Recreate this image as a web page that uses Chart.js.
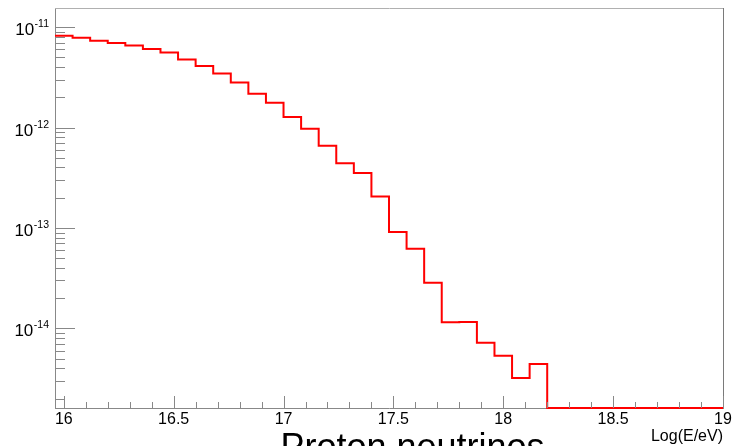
<!DOCTYPE html>
<html>
<head>
<meta charset="utf-8">
<title>Proton neutrinos</title>
<script src="https://cdn.jsdelivr.net/npm/chart.js@4/dist/chart.umd.min.js"></script>
<style>
  html, body { margin: 0; padding: 0; background: #fff; overflow: hidden; }
  #wrap { width: 732px; height: 446px; }
</style>
</head>
<body>
<div id="wrap"><canvas id="chart" width="732" height="446"></canvas></div>
<script>
// Bin edges in Log(E/eV) (38 bins of 0.08, last edge = 19)
var binEdges = [
  15.96, 16.04, 16.12, 16.20, 16.28, 16.36, 16.44, 16.52, 16.60, 16.68,
  16.76, 16.84, 16.92, 17.00, 17.08, 17.16, 17.24, 17.32, 17.40, 17.48,
  17.56, 17.64, 17.72, 17.80, 17.88, 17.96, 18.04, 18.12, 18.20, 18.28,
  18.36, 18.44, 18.52, 18.60, 18.68, 18.76, 18.84, 18.92, 19.00
];

// Bin contents (empty bins are 0)
var binValues = [
  8.19e-12, 7.82e-12, 7.30e-12, 6.93e-12, 6.57e-12, 6.04e-12, 5.60e-12, 4.77e-12,
  4.09e-12, 3.46e-12, 2.81e-12, 2.17e-12, 1.76e-12, 1.27e-12, 9.71e-13, 6.58e-13,
  4.42e-13, 3.52e-13, 2.06e-13, 9.09e-14, 6.20e-14, 2.84e-14, 1.15e-14, 1.16e-14,
  7.19e-15, 5.33e-15, 3.20e-15, 4.41e-15, 0, 0, 0, 0, 0, 0, 0, 0, 0, 0
];

// X axis ticks (labels only on the half units)
var xTicks = [
  16.0, 16.1, 16.2, 16.3, 16.4, 16.5, 16.6, 16.7, 16.8, 16.9,
  17.0, 17.1, 17.2, 17.3, 17.4, 17.5, 17.6, 17.7, 17.8, 17.9,
  18.0, 18.1, 18.2, 18.3, 18.4, 18.5, 18.6, 18.7, 18.8, 18.9, 19.0
];
var xLabels = ["16", "16.5", "17", "17.5", "18", "18.5", "19"];

// Y axis decades (log scale)
var yDecades = [-15, -14, -13, -12, -11];

var xMin = 15.96, xMax = 19;
var yMin = 1.61e-15, yMax = 1.55e-11;

var histTitle = "Proton neutrinos";
var xTitle = "Log(E/eV)";

var fontFamily = "'Liberation Sans', Arial, Helvetica, sans-serif";
Chart.defaults.font.family = fontFamily;

function isHalf(v) {
  return Math.abs(v * 2 - Math.round(v * 2)) < 1e-6;
}

// Build the step points: one per bin low edge, plus the closing edge
function buildSteps() {
  var pts = [];
  for (var i = 0; i < binEdges.length; i++) {
    var v = i < binValues.length ? binValues[i] : binValues[binValues.length - 1];
    pts.push({ x: binEdges[i], y: Math.max(v, yMin) });
  }
  return pts;
}

// ROOT style frame: inner ticks, 10^n labels, title
var rootFrame = {
  id: "rootFrame",
  afterDraw: function (chart) {
    var ctx = chart.ctx;
    var area = chart.chartArea;
    var xs = chart.scales.x;
    var ys = chart.scales.y;
    ctx.save();

    // top and right sides of the frame
    ctx.lineWidth = 1;
    ctx.strokeStyle = "#b0b0b0";
    ctx.beginPath();
    ctx.moveTo(area.left, area.top + 0.5);
    ctx.lineTo(area.right + 1, area.top + 0.5);
    ctx.stroke();
    ctx.strokeStyle = "#7a7a7a";
    ctx.beginPath();
    ctx.moveTo(area.right + 0.5, area.top);
    ctx.lineTo(area.right + 0.5, area.bottom);
    ctx.stroke();

    // x ticks pointing into the frame
    ctx.strokeStyle = "#888";
    xs.ticks.forEach(function (t) {
      var px = Math.round(xs.getPixelForValue(t.value)) + 0.5;
      var len = isHalf(t.value) ? 12 : 6;
      ctx.beginPath();
      ctx.moveTo(px, area.bottom);
      ctx.lineTo(px, area.bottom - len);
      ctx.stroke();
    });

    // y ticks + labels
    ys.ticks.forEach(function (t) {
      var e = Math.floor(Math.log10(t.value) + 1e-9);
      var m = Math.round(t.value / Math.pow(10, e));
      var py = Math.round(ys.getPixelForValue(t.value)) + 0.5;
      var len = m === 1 ? 20 : 10;
      ctx.strokeStyle = "#888";
      ctx.beginPath();
      ctx.moveTo(area.left, py);
      ctx.lineTo(area.left + len, py);
      ctx.stroke();
      if (m === 1) {
        var expText = "-" + Math.abs(e);
        ctx.fillStyle = "#000";
        ctx.textBaseline = "alphabetic";
        ctx.font = "10.5px " + fontFamily;
        ctx.textAlign = "right";
        var right = area.left - 6;
        ctx.fillText(expText, right, py - 1);
        var w = ctx.measureText(expText).width;
        ctx.font = "17px " + fontFamily;
        ctx.fillText("10", right - w - 0.5, py + 7.5);
      }
    });

    // histogram title, cut by the bottom of the canvas
    ctx.fillStyle = "#000";
    ctx.font = "36px " + fontFamily;
    ctx.textAlign = "center";
    ctx.textBaseline = "alphabetic";
    ctx.fillText(histTitle, 412.5, 459);

    ctx.restore();
  }
};

var ctx = document.getElementById("chart").getContext("2d");

var grafico = new Chart(ctx, {
  type: "line",
  data: {
    datasets: [
      {
        label: histTitle,
        data: buildSteps(),
        stepped: true,
        borderColor: "#ff0000",
        borderWidth: 2,
        pointRadius: 0,
        fill: false,
        clip: 2,
      },
    ],
  },
  options: {
    responsive: false,
    animation: false,
    layout: { padding: { top: 8, right: 9, left: 0, bottom: 0 } },
    plugins: {
      legend: { display: false },
      tooltip: { enabled: false },
    },
    scales: {
      x: {
        type: "linear",
        min: xMin,
        max: xMax,
        grid: { display: false, drawTicks: false },
        border: { display: true, color: "#888", width: 1 },
        afterBuildTicks: function (scale) {
          scale.ticks = xTicks.map(function (v) { return { value: v }; });
        },
        afterFit: function (scale) {
          scale.height = 38;
          scale.paddingLeft = 0;
          scale.paddingRight = 0;
        },
        ticks: {
          autoSkip: false,
          maxRotation: 0,
          padding: 2,
          color: "#000",
          font: { size: 16 },
          callback: function (value) {
            var s = String(Math.round(value * 10) / 10);
            return xLabels.indexOf(s) >= 0 ? s : "";
          },
        },
        title: {
          display: true,
          text: xTitle,
          align: "end",
          color: "#000",
          font: { size: 16 },
          padding: { top: 0, bottom: 0 },
        },
      },
      y: {
        type: "logarithmic",
        min: yMin,
        max: yMax,
        grid: { display: false, drawTicks: false },
        border: { display: true, color: "#888", width: 1 },
        ticks: { display: false },
        afterBuildTicks: function (scale) {
          var list = [];
          yDecades.forEach(function (e) {
            for (var m = 1; m <= 9; m++) {
              var v = m * Math.pow(10, e);
              if (v >= yMin && v <= yMax) list.push({ value: v });
            }
          });
          scale.ticks = list;
        },
        afterFit: function (scale) {
          scale.width = 55;
        },
      },
    },
  },
  plugins: [rootFrame],
});
</script>
</body>
</html>
